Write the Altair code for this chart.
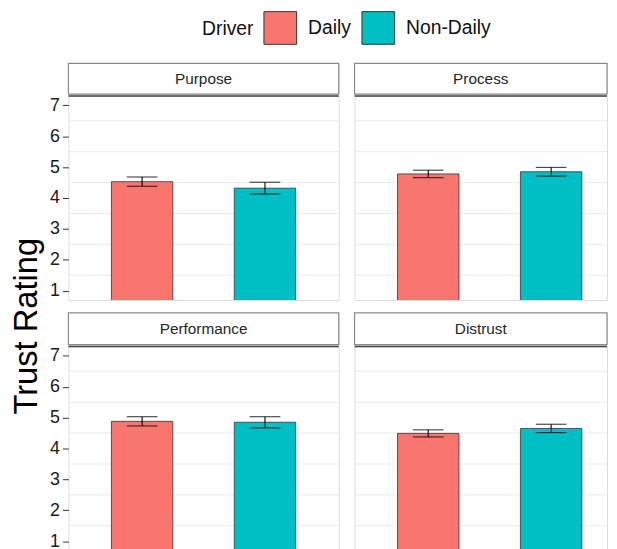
import altair as alt
import pandas as pd

FONT = "Liberation Sans"

dimensions = ["Purpose", "Process", "Performance", "Distrust"]
drivers = ["Daily", "Non-Daily"]
daily_mean = [4.53, 4.78, 4.88, 4.49]
daily_se = [0.15, 0.12, 0.15, 0.115]
nondaily_mean = [4.32, 4.85, 4.85, 4.65]
nondaily_se = [0.19, 0.14, 0.18, 0.135]
y_ticks = [1, 2, 3, 4, 5, 6, 7]
grid_values = [1.5, 2.5, 3.5, 4.5, 5.5, 6.5]
fill_colors = ["#F8766D", "#00BFC4"]
y_title = "Trust Rating"

rows = []
for i, dim in enumerate(dimensions):
    for drv, m, s in ((drivers[0], daily_mean[i], daily_se[i]),
                      (drivers[1], nondaily_mean[i], nondaily_se[i])):
        rows.append({"Dimension": dim, "Driver": drv, "mean": m,
                     "lower": m - s, "upper": m + s})
df = pd.DataFrame(rows)
grid_df = pd.DataFrame({"g": grid_values})

FULL_W, FULL_H = 273, 206
BORDER = "#8a8a8a"

legend = alt.Legend(
    orient="none", legendX=196, legendY=-53, direction="horizontal",
    title="Driver", titleOrient="left", symbolType="square", symbolSize=1089,
    symbolStrokeColor="#333333", symbolStrokeWidth=1, symbolOpacity=1,
    labelFontSize=19.5, titleFontSize=19.5, titleFontWeight="normal",
    titleColor="#111111", labelColor="#111111", labelFont=FONT, titleFont=FONT,
    labelOffset=11, columnPadding=8, titlePadding=10,
)
color = alt.Color("Driver:N", scale=alt.Scale(domain=drivers, range=fill_colors),
                  legend=legend)


def panel(dim, left, bottom):
    d = df[df["Dimension"] == dim]
    w = FULL_W if left else 255
    yscale = alt.Scale(domain=[0.7, 7.3], nice=False, zero=False)
    xscale = alt.Scale(type="band", domain=drivers, paddingInner=0.5,
                       paddingOuter=0.35, range=[0, FULL_W])
    if left:
        ax = alt.Axis(values=y_ticks, title=None, grid=False, domain=False,
                      labelFontSize=18, labelColor="#1a1a1a", labelFont=FONT,
                      tickColor="#333333", tickSize=6, labelPadding=3)
    else:
        ax = None
    x = alt.X("Driver:N", scale=xscale, axis=None, sort=drivers)
    grid = alt.Chart(grid_df).mark_rule(color="#ebebeb", strokeWidth=1).encode(
        y=alt.Y("g:Q", scale=yscale, axis=ax))
    bars = alt.Chart(d).mark_bar(stroke="#333333", strokeWidth=0.8, clip=True).encode(
        x=x, y=alt.Y("mean:Q", scale=yscale, axis=ax), color=color)
    err = alt.Chart(d).mark_rule(color="black", strokeWidth=1.1).encode(
        x=x, y=alt.Y("lower:Q", scale=yscale, axis=ax), y2="upper:Q")
    cap_lo = alt.Chart(d).mark_tick(color="black", size=31, thickness=1.2).encode(
        x=x, y=alt.Y("lower:Q", scale=yscale, axis=ax))
    cap_hi = alt.Chart(d).mark_tick(color="black", size=31, thickness=1.2).encode(
        x=x, y=alt.Y("upper:Q", scale=yscale, axis=ax))
    # dark strip/panel separator at the top of the y range
    top_line = alt.Chart(grid_df).mark_rule(color="#444444", strokeWidth=1.6).encode(
        y=alt.Y("top:Q", scale=yscale, axis=ax)).transform_aggregate(
        top="max(g)").transform_calculate(top="7.3")
    plot = alt.layer(grid, bars, err, cap_lo, cap_hi, top_line).properties(
        width=w, height=FULL_H)

    lab = pd.DataFrame({"label": [dim]})
    sx = alt.X("label:N", axis=None, scale=alt.Scale(paddingInner=0, paddingOuter=0))
    box = alt.Chart(lab).mark_rect(fill="white", stroke=BORDER, strokeWidth=1.2).encode(x=sx)
    txt = alt.Chart(lab).mark_text(fontSize=15.5, color="#262626", font=FONT).encode(
        x=sx, text="label:N")
    strip = alt.layer(box, txt).properties(width=w, height=32 if bottom else 31)
    return alt.vconcat(strip, plot, spacing=-4)


row1 = alt.hconcat(panel(dimensions[0], True, False), panel(dimensions[1], False, False), spacing=12)
row2 = alt.hconcat(panel(dimensions[2], True, True), panel(dimensions[3], False, True), spacing=12)
grid_chart = alt.vconcat(row1, row2, spacing=10)

title_chart = alt.Chart(pd.DataFrame({"t": [y_title]})).mark_text(
    angle=270, fontSize=33, font=FONT, color="black").encode(
    text="t:N").properties(width=38, height=531,
                           view=alt.ViewBackground(strokeWidth=0))

chart = alt.hconcat(title_chart, grid_chart, spacing=3).properties(
    padding={"left": 0, "top": 0, "right": 0, "bottom": 0}
).configure_view(stroke=BORDER, strokeWidth=1.2).configure(font=FONT)

chart.save("out.html", embed_options={"renderer": "svg", "actions": False})
